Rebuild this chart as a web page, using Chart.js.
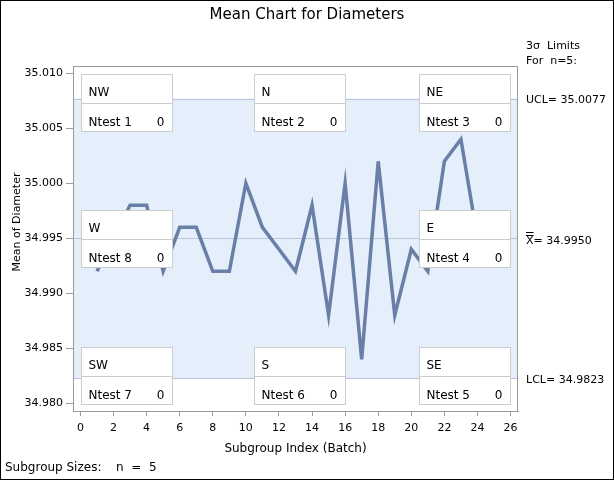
<!DOCTYPE html>
<html lang="en">
  <head>
    <meta charset="UTF-8" />
    <title>Mean Chart for Diameters</title>
    <script src="https://cdnjs.cloudflare.com/ajax/libs/Chart.js/4.4.1/chart.umd.min.js"></script>
    <style>
      body {
        margin: 0;
        background-color: #ffffff;
      }

      .chart-container {
        width: 614px;
        height: 480px;
      }
    </style>
  </head>
  <body>
    <div class="chart-container">
      <canvas id="meanChart"></canvas>
    </div>

    <script>
      // Subgroup means
      const subgroups = [1, 2, 3, 4, 5, 6, 7, 8, 9, 10, 11, 12, 13, 14, 15, 16, 17, 18, 19, 20, 21, 22, 23, 24, 25];
      const means = [34.992, 34.995, 34.998, 34.998, 34.992, 34.996, 34.996, 34.992, 34.992, 35.0, 34.996, 34.994, 34.992, 34.998, 34.988, 35.0, 34.984, 35.002, 34.988, 34.994, 34.992, 35.002, 35.004, 34.995, 34.993];

      // Control limits
      const ucl = 35.0077;
      const centerLine = 34.995;
      const lcl = 34.9823;

      // Tick labels
      const xTicks = [0, 2, 4, 6, 8, 10, 12, 14, 16, 18, 20, 22, 24, 26];
      const yTicks = [34.98, 34.985, 34.99, 34.995, 35.0, 35.005, 35.01];

      // Tests-for-special-causes boxes
      const boxNames = ["NW", "N", "NE", "E", "SE", "S", "SW", "W"];
      const testNumbers = [1, 2, 3, 4, 5, 6, 7, 8];
      const testCounts = [0, 0, 0, 0, 0, 0, 0, 0];

      const FONT = "'DejaVu Sans', sans-serif";
      const lineColor = "#6a7fa6";
      const bandColor = "#e5effc";
      const limitColor = "#b8c6d8";
      const frameColor = "#9a9a9a";

      const ctx = document.getElementById("meanChart").getContext("2d");

      // band between limits + limit lines, under the data line
      const limitsPlugin = {
        id: "limits",
        beforeDatasetsDraw(chart) {
          const { ctx, chartArea: ca, scales } = chart;
          const yU = scales.y.getPixelForValue(ucl);
          const yC = scales.y.getPixelForValue(centerLine);
          const yL = scales.y.getPixelForValue(lcl);
          ctx.save();
          ctx.fillStyle = bandColor;
          ctx.fillRect(ca.left, yU, ca.right - ca.left, yL - yU);
          ctx.strokeStyle = limitColor;
          ctx.lineWidth = 1;
          [yU, yC, yL].forEach((y) => {
            const py = Math.round(y) + 0.5;
            ctx.beginPath();
            ctx.moveTo(ca.left, py);
            ctx.lineTo(ca.right, py);
            ctx.stroke();
          });
          ctx.restore();
        },
      };

      // test boxes drawn over the line, plus labels around the plot
      const annotationsPlugin = {
        id: "annotations",
        afterDatasetsDraw(chart) {
          const { ctx, chartArea: ca, scales } = chart;
          const w = 91;
          const h = 57;
          const yC = scales.y.getPixelForValue(centerLine);
          const cols = {
            W: ca.left + 8,
            C: (ca.left + ca.right) / 2 - w / 2 + 4,
            E: ca.right - 8 - w,
          };
          const rows = {
            N: ca.top + 7.5,
            M: Math.round(yC) - 28.5,
            S: ca.bottom - 7.5 - h,
          };
          const anchor = (name) => {
            const row = name.includes("N") ? "N" : name.includes("S") ? "S" : "M";
            const col = name.includes("W") ? "W" : name.includes("E") ? "E" : "C";
            return { x: Math.round(cols[col]) + 0.5, y: Math.round(rows[row]) + 0.5 };
          };

          ctx.save();
          boxNames.forEach((name, i) => {
            const { x, y } = anchor(name);
            ctx.fillStyle = "#ffffff";
            ctx.fillRect(x, y, w, h);
            ctx.strokeStyle = "#cccccc";
            ctx.lineWidth = 1;
            ctx.strokeRect(x, y, w, h);
            ctx.beginPath();
            ctx.moveTo(x, y + 29);
            ctx.lineTo(x + w, y + 29);
            ctx.stroke();

            ctx.fillStyle = "#000000";
            ctx.font = "12px " + FONT;
            ctx.textBaseline = "alphabetic";
            ctx.textAlign = "left";
            ctx.fillText(name, x + 7, y + 21.5);
            ctx.fillText("Ntest " + testNumbers[i], x + 7, y + 51.5);
            ctx.textAlign = "right";
            ctx.fillText(String(testCounts[i]), x + w - 8, y + 51.5);
          });

          // plot frame
          ctx.strokeStyle = frameColor;
          ctx.strokeRect(ca.left + 0.5, ca.top + 0.5, ca.right - ca.left - 1, ca.bottom - ca.top);
          ctx.restore();
        },
        afterDraw(chart) {
          const { ctx, chartArea: ca, scales } = chart;
          const yU = scales.y.getPixelForValue(ucl);
          const yC = scales.y.getPixelForValue(centerLine);
          const yL = scales.y.getPixelForValue(lcl);
          const lx = ca.right + 8;

          ctx.save();
          ctx.fillStyle = "#000000";

          // main title, centred on the whole page
          ctx.font = "15px " + FONT;
          ctx.textAlign = "center";
          ctx.textBaseline = "middle";
          ctx.fillText("Mean Chart for Diameters", chart.width / 2, 15);

          ctx.font = "11px " + FONT;
          ctx.textAlign = "left";
          ctx.fillText("3\u03C3  Limits", lx, 46);
          ctx.fillText("For  n=5:", lx, 61);
          ctx.fillText("UCL= " + ucl.toFixed(4), lx, yU + 2);
          ctx.fillText("LCL= " + lcl.toFixed(4), lx, yL + 2);
          ctx.fillText("X= " + centerLine.toFixed(4), lx, yC + 3);

          // double bar over the X
          const xw = ctx.measureText("X").width;
          ctx.strokeStyle = "#000000";
          ctx.lineWidth = 1;
          [yC - 6.5, yC - 3.5].forEach((y) => {
            ctx.beginPath();
            ctx.moveTo(lx, Math.round(y) + 0.5);
            ctx.lineTo(lx + xw, Math.round(y) + 0.5);
            ctx.stroke();
          });

          // y axis title
          ctx.save();
          ctx.translate(17, 222);
          ctx.rotate(-Math.PI / 2);
          ctx.textAlign = "center";
          ctx.fillText("Mean of Diameter", 0, 0);
          ctx.restore();

          // x axis title
          ctx.font = "12px " + FONT;
          ctx.textAlign = "center";
          ctx.fillText("Subgroup Index (Batch)", (ca.left + ca.right) / 2, 449);

          // footnote
          ctx.textAlign = "left";
          ctx.fillText("Subgroup Sizes:", 5, 468);
          ctx.fillText("n  =  5", 116, 468);

          // outer frame
          ctx.strokeRect(0.5, 0.5, chart.width - 1, chart.height - 1);
          ctx.restore();
        },
      };

      const data = {
        datasets: [
          {
            label: "Mean of Diameter",
            data: subgroups.map((s, i) => ({ x: s, y: means[i] })),
            borderColor: lineColor,
            borderWidth: 3.5,
            pointRadius: 0,
            fill: false,
            tension: 0,
          },
        ],
      };

      const options = {
        responsive: true,
        maintainAspectRatio: false,
        animation: false,
        layout: {
          padding: { left: 0, right: 96, top: 66, bottom: 0 },
        },
        scales: {
          x: {
            type: "linear",
            min: -0.45,
            max: 26.45,
            afterBuildTicks: (scale) => {
              scale.ticks = xTicks.map((v) => ({ value: v }));
            },
            afterFit: (scale) => {
              scale.height = 69;
            },
            ticks: {
              font: { family: FONT, size: 11 },
              color: "#000000",
              padding: 6,
              maxRotation: 0,
            },
            grid: {
              drawOnChartArea: false,
              drawTicks: true,
              tickLength: 5,
              color: frameColor,
            },
            border: { display: true, color: frameColor },
          },
          y: {
            min: 34.9793,
            max: 35.01066,
            afterBuildTicks: (scale) => {
              scale.ticks = yTicks.map((v) => ({ value: v }));
            },
            afterFit: (scale) => {
              scale.width = 73;
            },
            ticks: {
              font: { family: FONT, size: 11 },
              color: "#000000",
              padding: 3,
              callback: (v) => Number(v).toFixed(3),
            },
            grid: {
              drawOnChartArea: false,
              drawTicks: true,
              tickLength: 7,
              color: frameColor,
            },
            border: { display: true, color: frameColor },
          },
        },
        plugins: {
          legend: { display: false },
          tooltip: { enabled: false },
          title: { display: false },
        },
      };

      const meanChart = new Chart(ctx, {
        type: "line",
        data: data,
        options: options,
        plugins: [limitsPlugin, annotationsPlugin],
      });
    </script>
  </body>
</html>
